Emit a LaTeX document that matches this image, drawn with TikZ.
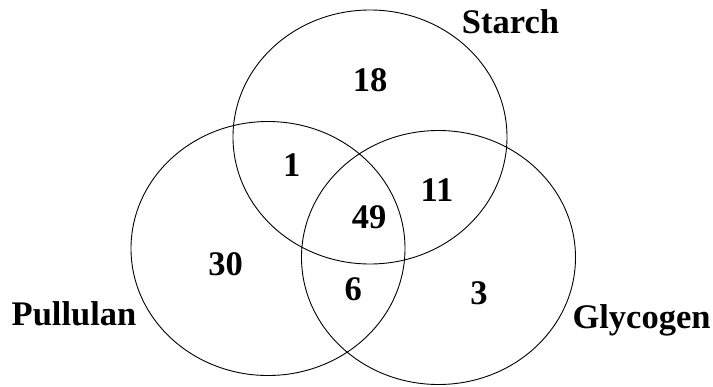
\documentclass[tikz,border=0pt]{standalone}
\usepackage{fontspec}
\setmainfont{Liberation Serif}
\usetikzlibrary{shapes.geometric}

\begin{document}
\begin{tikzpicture}[
  x=1pt, y=-1pt,
  set/.style={ellipse, draw=black, line width=0.9pt,
    minimum width=274pt, minimum height=254pt, inner sep=0pt},
  count/.style={font=\fontsize{34.5}{38}\selectfont\bfseries,
    anchor=base, inner sep=0pt},
  setname/.style={count}
]
  \useasboundingbox (0,0) rectangle (713,386);
  % the three sets
  \node[set] (starch) at (370,137) {};
  \node[set] (pullulan) at (268,248.5) {};
  \node[set] (glycogen) at (438.5,257.5) {};
  % set names
  \node[setname] (starchname) at (510.5,33) {Starch};
  \node[setname] (pullulanname) at (74,325) {Pullulan};
  \node[setname] (glycogenname) at (641.5,328) {Glycogen};
  % region counts
  \node[count] (sonly) at (370,91.7) {18};
  \node[count] (sp) at (291.7,176.7) {1};
  \node[count] (sg) at (437,201.7) {11};
  \node[count] (spg) at (369,228.3) {49};
  \node[count] (ponly) at (225.7,275) {30};
  \node[count] (pg) at (353.3,300) {6};
  \node[count] (gonly) at (479,304) {3};
\end{tikzpicture}
\end{document}
